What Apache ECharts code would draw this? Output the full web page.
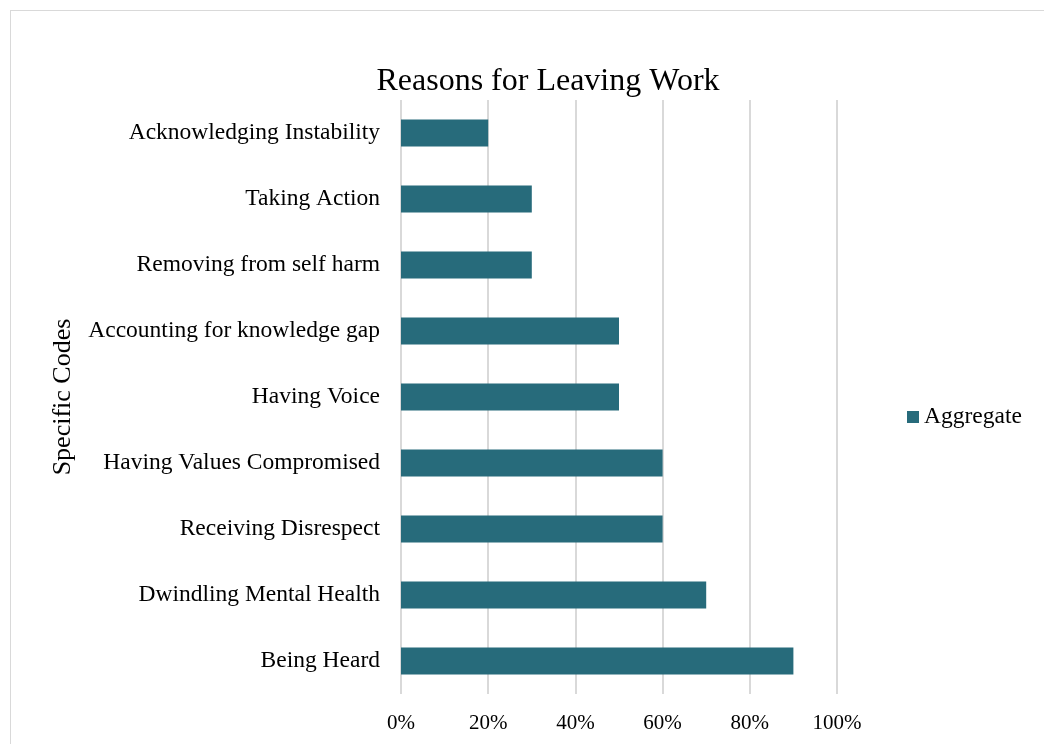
<!DOCTYPE html>
<html><head><meta charset="utf-8">
<script src="https://cdn.jsdelivr.net/npm/echarts@6/dist/echarts.min.js"></script>
<style>html,body{margin:0;padding:0;background:#fff}#c{width:1044px;height:744px}
#frame{position:absolute;left:10px;top:10px;width:1100px;height:800px;border:1px solid #d9d9d9;box-sizing:border-box;pointer-events:none}</style>
</head><body><div id="c"></div><div id="frame"></div>
<script>
const categories = ["Being Heard","Dwindling Mental Health","Receiving Disrespect","Having Values Compromised","Having Voice","Accounting for knowledge gap","Removing from self harm","Taking Action","Acknowledging Instability"];
const aggregate = [90,70,60,60,50,50,30,30,20];
const xTicks = [0,20,40,60,80,100];
const font = "'Liberation Serif','Times New Roman',serif";
const chart = echarts.init(document.getElementById('c'));
chart.setOption({
  animation:false,
  textStyle:{fontFamily:font},
  title:{text:"Reasons for Leaving Work",left:543,textAlign:'center',top:61,textStyle:{fontFamily:font,fontSize:32,fontWeight:'normal',color:'#000'}},
  legend:{data:['Aggregate'],left:902,top:400,itemWidth:12,itemHeight:12,itemGap:5,icon:'rect',textStyle:{fontFamily:font,fontSize:23.5,color:'#000'}},
  grid:{left:401,width:436,top:100,bottom:50,containLabel:false},
  xAxis:{type:'value',min:0,max:100,interval:20,
    axisLabel:{formatter:v=>v+'%',fontFamily:font,fontSize:21,color:'#000',margin:19},
    axisLine:{show:false},axisTick:{show:false},
    splitLine:{lineStyle:{color:'#d9d9d9',width:2}}},
  yAxis:{type:'category',data:categories,name:'Specific Codes',nameLocation:'middle',nameGap:325,nameRotate:90,
    nameTextStyle:{fontFamily:font,fontSize:26,color:'#000'},
    axisLabel:{fontFamily:font,fontSize:23.5,color:'#000',margin:21},
    axisLine:{show:false},axisTick:{show:false}},
  series:[{name:'Aggregate',type:'bar',data:aggregate,barWidth:27,itemStyle:{color:'#276B7B'}}]
});
</script></body></html>
